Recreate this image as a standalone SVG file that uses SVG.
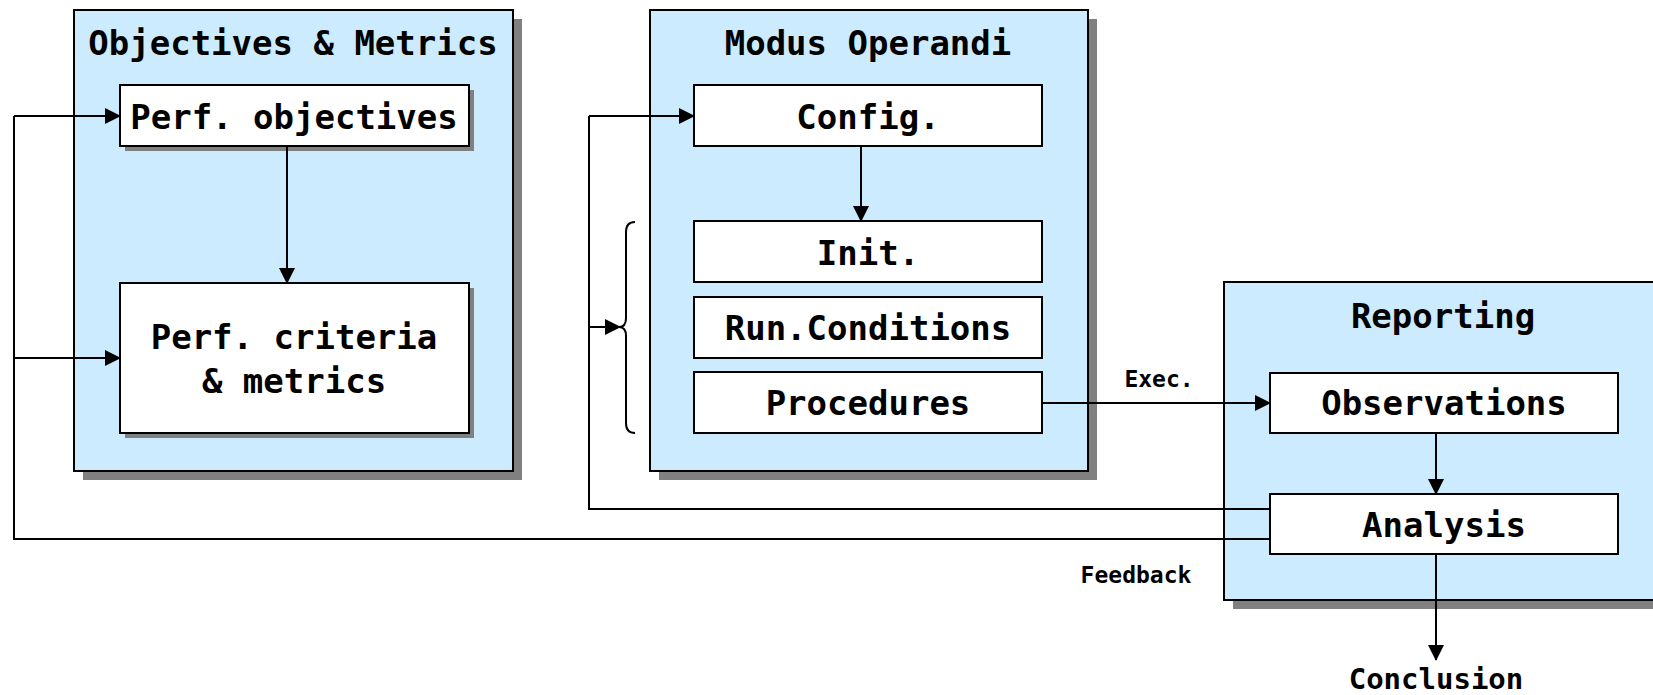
<svg xmlns="http://www.w3.org/2000/svg" width="1653" height="695" viewBox="0 0 1653 695">
<style>
.container{fill:#CCEBFF;stroke:#000;stroke-width:2}
.cshadow{fill:#808080}
.box{fill:#fff;stroke:#000;stroke-width:2}
.bshadow{fill:#808080}
.t{font-family:"DejaVu Sans Mono","Liberation Mono",monospace;font-weight:bold;font-size:34px;fill:#000;text-anchor:middle}
.c{font-family:"DejaVu Sans Mono","Liberation Mono",monospace;font-weight:bold;font-size:29px;fill:#000;text-anchor:middle}
.s{font-family:"DejaVu Sans Mono","Liberation Mono",monospace;font-weight:bold;font-size:23px;fill:#000;text-anchor:middle}
.line{fill:none;stroke:#000;stroke-width:2}
</style>
<defs>
<marker id="arr" markerWidth="16" markerHeight="16" refX="15" refY="8" orient="auto" markerUnits="userSpaceOnUse">
<path d="M0,0 L16,8 L0,16 Z" fill="#000"/>
</marker>
</defs>
<rect width="1653" height="695" fill="#fff"/>

<g id="objectives-metrics">
<rect class="cshadow" x="83" y="19" width="439" height="461"/>
<rect class="container" x="74" y="10" width="439" height="461"/>
<text class="t" x="293" y="55">Objectives &amp; Metrics</text>
</g>
<g id="perf-objectives">
<rect class="bshadow" x="125" y="90" width="349" height="61"/>
<rect class="box" x="120" y="85" width="349" height="61"/>
<text class="t" x="294" y="129">Perf. objectives</text>
</g>
<g id="perf-criteria">
<rect class="bshadow" x="125" y="288" width="349" height="150"/>
<rect class="box" x="120" y="283" width="349" height="150"/>
<text class="t" x="294" y="349">Perf. criteria</text>
<text class="t" x="294" y="393">&amp; metrics</text>
</g>

<g id="modus-operandi">
<rect class="cshadow" x="659" y="19" width="438" height="461"/>
<rect class="container" x="650" y="10" width="438" height="461"/>
<text class="t" x="868" y="55">Modus Operandi</text>
</g>
<g id="config">
<rect class="box" x="694" y="85" width="348" height="61"/>
<text class="t" x="868" y="129">Config.</text>
</g>
<g id="init">
<rect class="box" x="694" y="221" width="348" height="61"/>
<text class="t" x="868" y="265">Init.</text>
</g>
<g id="run-conditions">
<rect class="box" x="694" y="297" width="348" height="61"/>
<text class="t" x="868" y="340">Run.Conditions</text>
</g>
<g id="procedures">
<rect class="box" x="694" y="372" width="348" height="61"/>
<text class="t" x="868" y="415">Procedures</text>
</g>

<g id="reporting">
<rect class="cshadow" x="1233" y="291" width="440" height="318"/>
<rect class="container" x="1224" y="282" width="440" height="318"/>
<text class="t" x="1443" y="328">Reporting</text>
</g>
<g id="observations">
<rect class="box" x="1270" y="373" width="348" height="60"/>
<text class="t" x="1444" y="415">Observations</text>
</g>
<g id="analysis">
<rect class="box" x="1270" y="494" width="348" height="60"/>
<text class="t" x="1444" y="537">Analysis</text>
</g>
<g id="conclusion">
<text class="c" x="1436" y="689">Conclusion</text>
</g>

<g id="connectors">
<line class="line" x1="287" y1="146" x2="287" y2="283" marker-end="url(#arr)"/>
<line class="line" x1="861" y1="146" x2="861" y2="221" marker-end="url(#arr)"/>
<line class="line" x1="1436" y1="433" x2="1436" y2="494" marker-end="url(#arr)"/>
<line class="line" x1="1436" y1="554" x2="1436" y2="660" marker-end="url(#arr)"/>
<line class="line" x1="1042" y1="403" x2="1270" y2="403" marker-end="url(#arr)"/>
<text class="s" x="1159" y="387">Exec.</text>
<polyline class="line" points="1270,539 14,539 14,116"/>
<line class="line" x1="14" y1="116" x2="120" y2="116" marker-end="url(#arr)"/>
<line class="line" x1="14" y1="358" x2="120" y2="358" marker-end="url(#arr)"/>
<polyline class="line" points="1270,509 589,509 589,116"/>
<line class="line" x1="589" y1="116" x2="694" y2="116" marker-end="url(#arr)"/>
<line class="line" x1="589" y1="327" x2="620" y2="327" marker-end="url(#arr)"/>
<path class="line" d="M635,222 Q626,222 626,232 L626,318 Q626,327 619,327 Q626,327 626,336 L626,423 Q626,433 635,433"/>
<text class="s" x="1136" y="583">Feedback</text>
</g>
</svg>
